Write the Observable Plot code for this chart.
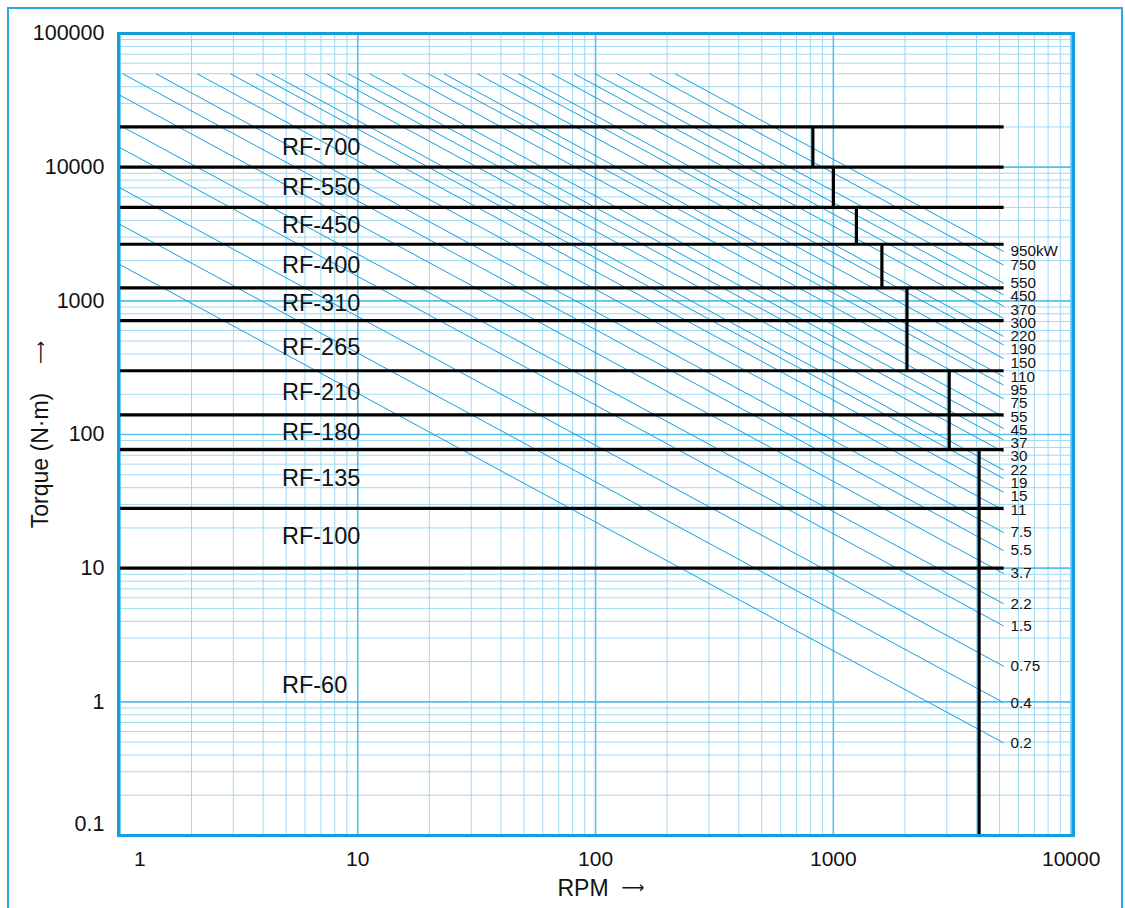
<!DOCTYPE html>
<html><head><meta charset="utf-8">
<script src="https://cdn.jsdelivr.net/npm/d3@7"></script>
<script src="https://cdn.jsdelivr.net/npm/@observablehq/plot@0.6"></script>
<style>
body{margin:0;background:#fff;}
#wrap{position:relative;width:1125px;height:908px;overflow:hidden;background:#fff;}
#border{position:absolute;left:7px;top:7px;width:1116px;height:1000px;border:2px solid #2aa8e0;box-sizing:border-box;}
#chart{position:absolute;left:0;top:0;}
</style></head><body>
<div id="wrap"><div id="border"></div><div id="chart"></div></div>
<script>
// ---- data ----
const models      = ["RF-700","RF-550","RF-450","RF-400","RF-310","RF-265","RF-210","RF-180","RF-135","RF-100","RF-60"];
const ratedTorque = [20000, 10000, 5000, 2650, 1250, 710, 300, 140, 77, 28, 10];      // N·m (top line of each band)
const maxSpeed    = [820, 1000, 1250, 1600, 2040, 2040, 3070, 3070, 4100, 4100, 4100]; // rpm (vertical limit)
const labelTorque = [13960, 7080, 3660, 1840, 960, 450, 207, 104, 46.6, 17.3, 1.33];  // where the model name sits
const labelSpeed  = 4.8;
const powers = [950,750,550,450,370,300,220,190,150,110,95,75,55,45,37,30,22,19,15,11,7.5,5.5,3.7,2.2,1.5,0.75,0.4,0.2]; // kW
const xTicks = [1,10,100,1000,10000];
const yTicks = [1,10,100,1000,10000,100000];
const yEdgeTick = [0.1];

// ---- chart constants ----
const xDomain = [0.986, 10230];
const yDomain = [0.1, 100000];
const lineEndSpeed = 5200;   // right end of the torque / power lines
const torqueCap = 50000;     // power lines start here
const K = 9330, slope = 0.963; // power line law as drawn: T = K·P / n^slope

const W = 1125, H = 908, mL = 118, mR = 52, mT = 33, mB = 73;
const decadePx = (H - mT - mB) / Math.log10(yDomain[1] / yDomain[0]);

const torqueAt = (p, n) => K * p / Math.pow(n, slope);
const speedAt = (p, t) => Math.pow(K * p / t, 1 / slope);

const powerLines = powers.map(p => {
  const n1 = Math.max(xDomain[0], speedAt(p, torqueCap));
  return {p, n1, t1: torqueAt(p, n1), n2: lineEndSpeed, t2: torqueAt(p, lineEndSpeed)};
});
// keep the end labels at least ~13px apart (top to bottom)
const gapDec = 13.2 / decadePx;
let prev = Infinity;
const powerLabels = powerLines.map((d, i) => {
  let lg = Math.log10(d.t2);
  if (lg > prev - gapDec) lg = prev - gapDec;
  prev = lg;
  return {t: Math.pow(10, lg), n: d.n2, text: i === 0 ? d.p + "kW" : String(d.p)};
});

const hLines = ratedTorque.map(t => ({t}));
const vLines = models.map((m, i) => ({n: maxSpeed[i], t1: ratedTorque[i], t2: i + 1 < ratedTorque.length ? ratedTorque[i + 1] : yDomain[0]}));
const modelLabels = models.map((m, i) => ({m, t: labelTorque[i]}));

const gridX = [], gridY = [];
for (let e = 0; e < 4; e++) for (let k = 1; k < 10; k++) gridX.push(k * 10 ** e);
gridX.push(10000);
for (let e = -1; e < 5; e++) for (let k = 1; k < 10; k++) gridY.push(+(k * 10 ** e).toPrecision(3));
gridY.push(100000);

const font = "'Liberation Sans', Arial, Helvetica, sans-serif";
const arrowFont = "'DejaVu Sans', sans-serif";
const ink = "#111";

const chart = Plot.plot({
  width: W, height: H,
  marginLeft: mL, marginRight: mR, marginTop: mT, marginBottom: mB,
  x: {type: "log", domain: xDomain, axis: null},
  y: {type: "log", domain: yDomain, axis: null},
  style: {fontFamily: font, background: "transparent", overflow: "visible", color: ink},
  marks: [
    Plot.ruleX(gridX, {x: d => d, stroke: "#9fd9f3", strokeWidth: 1}),
    Plot.ruleY(gridY, {y: d => d, stroke: "#9fd9f3", strokeWidth: 1}),
    Plot.ruleX(xTicks, {x: d => d, stroke: "#5cc0ec", strokeWidth: 1.6}),
    Plot.ruleY([0.1, ...yTicks], {y: d => d, stroke: "#5cc0ec", strokeWidth: 1.6}),
    Plot.link(powerLines, {x1: "n1", y1: "t1", x2: "n2", y2: "t2", stroke: "#12a0dc", strokeWidth: 1}),
    Plot.link(hLines, {x1: () => xDomain[0], x2: () => lineEndSpeed, y1: "t", y2: "t", stroke: "#000", strokeWidth: 3.2}),
    Plot.link(vLines, {x1: "n", x2: "n", y1: "t1", y2: "t2", stroke: "#000", strokeWidth: 3.2}),
    Plot.frame({stroke: "#139fdf", strokeWidth: 3}),
    Plot.text(modelLabels, {x: () => labelSpeed, y: "t", text: "m", textAnchor: "start", lineAnchor: "middle", fontSize: 23.5, fill: ink}),
    Plot.text(powerLabels, {x: "n", y: "t", text: "text", textAnchor: "start", lineAnchor: "middle", dx: 7, fontSize: 15.2, fill: ink}),
    Plot.text(yTicks, {y: d => d, text: d => String(d), frameAnchor: "left", textAnchor: "end", lineAnchor: "middle", dx: -14, fontSize: 21.5, fill: ink}),
    Plot.text(yEdgeTick, {y: d => d, text: d => String(d), frameAnchor: "left", textAnchor: "end", lineAnchor: "middle", dx: -14, dy: -11, fontSize: 21.5, fill: ink}),
    Plot.text(xTicks.slice(1), {x: d => d, text: d => String(d), frameAnchor: "bottom", textAnchor: "middle", lineAnchor: "middle", dy: 24, fontSize: 21, fill: ink}),
    Plot.text(xTicks.slice(0, 1), {x: d => d, text: d => String(d), frameAnchor: "bottom", textAnchor: "middle", lineAnchor: "middle", dy: 24, dx: 20, fontSize: 21, fill: ink}),
    Plot.text(["RPM"], {frameAnchor: "bottom", textAnchor: "middle", lineAnchor: "middle", dy: 53, dx: -13, fontSize: 23, fill: ink}),
    Plot.text(["\u27F6"], {frameAnchor: "bottom", textAnchor: "middle", lineAnchor: "middle", dy: 52, dx: 37, fontSize: 16, fontFamily: arrowFont, fill: ink}),
    Plot.text(["Torque (N\u00b7m)"], {frameAnchor: "left", textAnchor: "middle", lineAnchor: "middle", dx: -78, dy: 26, rotate: -90, fontSize: 23, fill: ink}),
    Plot.text(["\u27F6"], {frameAnchor: "left", textAnchor: "middle", lineAnchor: "middle", dx: -78, dy: -82, rotate: -90, fontSize: 16, fontFamily: arrowFont, fill: ink})
  ]
});
document.getElementById("chart").append(chart);
</script>
</body></html>
